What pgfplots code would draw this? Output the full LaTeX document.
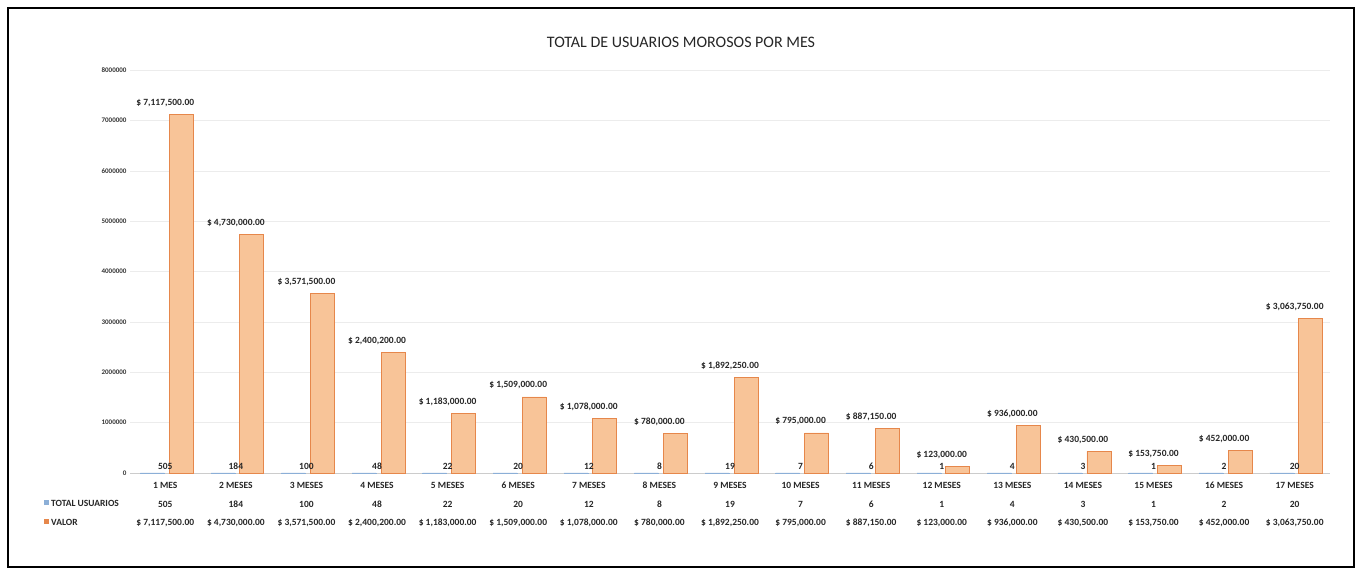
\documentclass[border=0pt]{standalone}
\usepackage{pgfplots}
\pgfplotsset{compat=1.18}
\usepackage{pgfplotstable}
\usepackage{fontspec}
\setmainfont{Carlito}
\definecolor{barfill}{RGB}{248,196,152}
\definecolor{baredge}{RGB}{230,135,75}
\definecolor{bluebar}{RGB}{140,175,215}

\pgfplotstableread{
x users valor vlabel
0  505 7117500 7,117,500.00
1  184 4730000 4,730,000.00
2  100 3571500 3,571,500.00
3  48  2400200 2,400,200.00
4  22  1183000 1,183,000.00
5  20  1509000 1,509,000.00
6  12  1078000 1,078,000.00
7  8   780000  780,000.00
8  19  1892250 1,892,250.00
9  7   795000  795,000.00
10 6   887150  887,150.00
11 1   123000  123,000.00
12 4   936000  936,000.00
13 3   430500  430,500.00
14 1   153750  153,750.00
15 2   452000  452,000.00
16 20  3063750 3,063,750.00
}\data

\begin{document}
\begin{tikzpicture}
\path[use as bounding box] (0pt,0pt) rectangle (1362pt,575pt);
\draw[line width=1.5pt] (8pt,8pt) rectangle (1354pt,567pt);
\node[font=\fontsize{16}{18}\selectfont, text=black!85] at (681pt,533pt) {TOTAL DE USUARIOS MOROSOS POR MES};
\begin{axis}[
  at={(130pt,102pt)}, anchor=south west,
  scale only axis, width=1200pt, height=403pt,
  xmin=-0.5, xmax=16.5, ymin=0, ymax=8000000,
  ytick={0,1000000,...,8000000},
  scaled y ticks=false,
  /pgf/number format/fixed,
  /pgf/number format/1000 sep={},
  /pgf/number format/assume math mode=true,
  yticklabel style={font=\fontsize{7}{8}\selectfont\bfseries, text=black!80},
  xtick=data,
  xticklabels={
    {\strut 1 MES\\505\\\$ 7,117,500.00\strut},
    {\strut 2 MESES\\184\\\$ 4,730,000.00\strut},
    {\strut 3 MESES\\100\\\$ 3,571,500.00\strut},
    {\strut 4 MESES\\48\\\$ 2,400,200.00\strut},
    {\strut 5 MESES\\22\\\$ 1,183,000.00\strut},
    {\strut 6 MESES\\20\\\$ 1,509,000.00\strut},
    {\strut 7 MESES\\12\\\$ 1,078,000.00\strut},
    {\strut 8 MESES\\8\\\$ 780,000.00\strut},
    {\strut 9 MESES\\19\\\$ 1,892,250.00\strut},
    {\strut 10 MESES\\7\\\$ 795,000.00\strut},
    {\strut 11 MESES\\6\\\$ 887,150.00\strut},
    {\strut 12 MESES\\1\\\$ 123,000.00\strut},
    {\strut 13 MESES\\4\\\$ 936,000.00\strut},
    {\strut 14 MESES\\3\\\$ 430,500.00\strut},
    {\strut 15 MESES\\1\\\$ 153,750.00\strut},
    {\strut 16 MESES\\2\\\$ 452,000.00\strut},
    {\strut 17 MESES\\20\\\$ 3,063,750.00\strut}},
  xticklabel style={font=\fontsize{9.5}{18.5}\selectfont\bfseries, align=center, text=black!85, yshift=0.5pt},
  major tick length=0pt,
  ymajorgrids, grid style={gray!15, line width=0.4pt},
  axis lines*=left,
  y axis line style={draw=none},
  x axis line style={gray!40},
  clip=false,
]
\addplot[ybar, bar width=24pt, bar shift=-13pt, fill=bluebar, draw=bluebar,
  nodes near coords, point meta=explicit symbolic,
  every node near coord/.append style={font=\fontsize{9.5}{11}\selectfont\bfseries, text=black!85}]
  table[x=x, y=users, meta=users] {\data};
\addplot[ybar, bar width=24pt, bar shift=16pt, fill=barfill, draw=baredge, line width=0.8pt,
  nodes near coords={\$ \pgfplotspointmeta}, point meta=explicit symbolic,
  every node near coord/.append style={font=\fontsize{9.5}{11}\selectfont\bfseries, text=black!85, yshift=4pt}]
  table[x=x, y=valor, meta=vlabel] {\data};
\end{axis}
\fill[bluebar] (44pt,69.5pt) rectangle (49pt,74.5pt);
\fill[baredge] (44pt,50.5pt) rectangle (49pt,55.5pt);
\node[anchor=west, inner sep=1pt, font=\fontsize{9.5}{11}\selectfont\bfseries, text=black!85] at (50pt,72pt) {TOTAL USUARIOS};
\node[anchor=west, inner sep=1pt, font=\fontsize{9.5}{11}\selectfont\bfseries, text=black!85] at (50pt,53pt) {VALOR};
\end{tikzpicture}
\end{document}
